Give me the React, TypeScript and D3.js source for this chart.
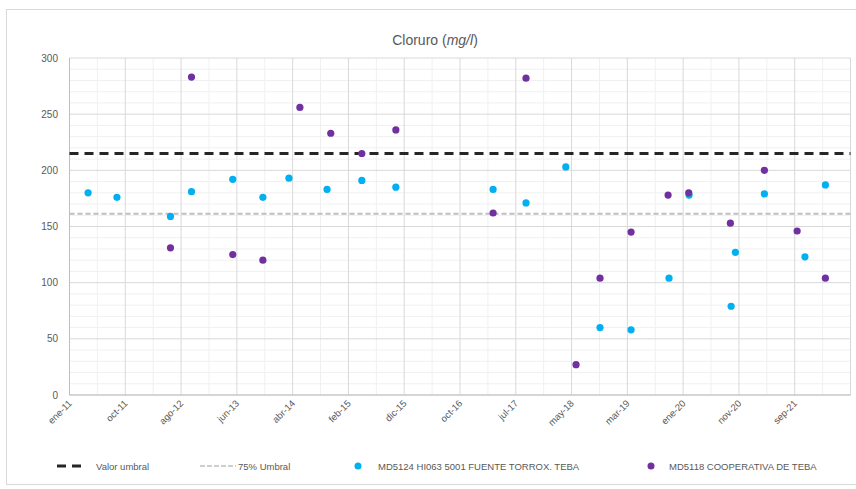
import React from "react";
import * as d3 from "d3";

const tickLabels = ["ene-11","oct-11","ago-12","jun-13","abr-14","feb-15","dic-15","oct-16","jul-17","may-18","mar-19","ene-20","nov-20","sep-21"];
const yTicks = [0, 50, 100, 150, 200, 250, 300];

const umbral = 215;
const umbral75 = 161.25;

const torroxDates = ["2011-04-11","2011-09-13","2012-06-27","2012-10-18","2013-05-28","2013-11-06","2014-03-26","2014-10-17","2015-04-22","2015-10-22","2017-03-28","2017-09-21","2018-04-23","2018-10-24","2019-04-09","2019-10-30","2020-02-15","2020-09-28","2020-10-21","2021-03-26","2021-10-30","2022-02-17"];
const torroxValues = [180,176,159,181,192,176,193,183,191,185,183,171,203,60,58,104,178,79,127,179,123,187];

const coopDates = ["2012-06-27","2012-10-18","2013-05-28","2013-11-06","2014-05-24","2014-11-06","2015-04-22","2015-10-22","2017-03-28","2017-09-21","2018-06-17","2018-10-24","2019-04-09","2019-10-25","2020-02-13","2020-09-24","2021-03-26","2021-09-18","2022-02-17"];
const coopValues = [131,283,125,120,256,233,215,236,162,282,27,104,145,178,180,153,200,146,104];

const seriesNames = ["MD5124  HI063 5001 FUENTE TORROX. TEBA", "MD5118 COOPERATIVA DE TEBA"];
const colors = ["#00B0F0", "#7030A0"];

const W = 856, H = 489;
const FONT = "'Liberation Sans', Arial, sans-serif";
const TXT = "#595959";

export default function App() {
  const base = new Date("2011-01-01");
  const end = d3.utcDay.offset(base, 4200);
  const x = d3.scaleUtc().domain([base, end]).range([69.5, 850.5]);
  const y = d3.scaleLinear().domain([0, 300]).range([395, 58]);
  const majors = d3.range(0, 15).map((i) => d3.utcDay.offset(base, i * 300));
  const minors = d3.range(0, 14).map((i) => d3.utcDay.offset(base, i * 300 + 150));
  const yMinor = d3.range(0, 301, 10).filter((v) => v % 50 !== 0);
  const [x0, x1] = x.range();

  const series = [
    { dates: torroxDates, values: torroxValues, color: colors[0] },
    { dates: coopDates, values: coopValues, color: colors[1] },
  ];

  return (
    <svg width={W} height={H} style={{ position: "absolute", left: 0, top: 0, background: "#fff" }} fontFamily={FONT}>
      <rect x={6.5} y={9.5} width={860} height={475} fill="#fff" stroke="#D9D9D9" />
      <text x={435} y={45} textAnchor="middle" fontSize={14} fill={TXT}>
        Cloruro (<tspan fontStyle="italic">mg/l</tspan>)
      </text>
      {/* minor grid */}
      {yMinor.map((v) => (
        <line key={"ym" + v} x1={x0} x2={x1} y1={y(v)} y2={y(v)} stroke="#F0F0F0" />
      ))}
      {minors.map((d, i) => (
        <line key={"xm" + i} x1={x(d)} x2={x(d)} y1={y(0)} y2={y(300)} stroke="#F0F0F0" />
      ))}
      {/* major grid */}
      {yTicks.map((v) => (
        <line key={"y" + v} x1={x0} x2={x1} y1={y(v)} y2={y(v)} stroke="#D9D9D9" />
      ))}
      {majors.map((d, i) => (
        <line key={"x" + i} x1={x(d)} x2={x(d)} y1={y(0)} y2={y(300)} stroke="#D9D9D9" />
      ))}
      <line x1={x0} x2={x0} y1={y(0)} y2={y(300)} stroke="#BFBFBF" />
      <line x1={x0} x2={x1} y1={y(0)} y2={y(0)} stroke="#BFBFBF" />
      {yTicks.map((v) => (
        <text key={"yl" + v} x={58} y={y(v) + 3.5} textAnchor="end" fontSize={10} fill={TXT}>
          {v}
        </text>
      ))}
      {tickLabels.map((t, i) => (
        <text
          key={"xl" + i}
          transform={`translate(${x(majors[i]) + 3},${y(0) + 9}) rotate(-45)`}
          textAnchor="end"
          fontSize={9.5}
          fill={TXT}
        >
          {t}
        </text>
      ))}
      {/* threshold lines */}
      <line x1={x0} x2={x1} y1={y(umbral75)} y2={y(umbral75)} stroke="#BFBFBF" strokeWidth={2} strokeDasharray="5 3" />
      <line x1={x0} x2={x1} y1={y(umbral)} y2={y(umbral)} stroke="#262626" strokeWidth={3} strokeDasharray="9 6" />
      {/* points */}
      {series.map((s, si) =>
        s.dates.map((d, i) => (
          <circle key={si + "-" + i} cx={x(new Date(d))} cy={y(s.values[i])} r={3.6} fill={s.color} />
        ))
      )}
      {/* legend */}
      <line x1={57} x2={84} y1={466} y2={466} stroke="#262626" strokeWidth={3} strokeDasharray="9 6" />
      <text x={96} y={469.5} fontSize={9.5} fill={TXT}>Valor umbral</text>
      <line x1={200} x2={236} y1={466} y2={466} stroke="#BFBFBF" strokeWidth={1.5} strokeDasharray="5 2" />
      <text x={238} y={469.5} fontSize={9.5} fill={TXT}>75% Umbral</text>
      <circle cx={358} cy={466} r={3.5} fill={colors[0]} />
      <text x={378} y={469.5} fontSize={9.5} fill={TXT}>{seriesNames[0]}</text>
      <circle cx={651} cy={466} r={3.5} fill={colors[1]} />
      <text x={669} y={469.5} fontSize={9.5} fill={TXT}>{seriesNames[1]}</text>
    </svg>
  );
}
